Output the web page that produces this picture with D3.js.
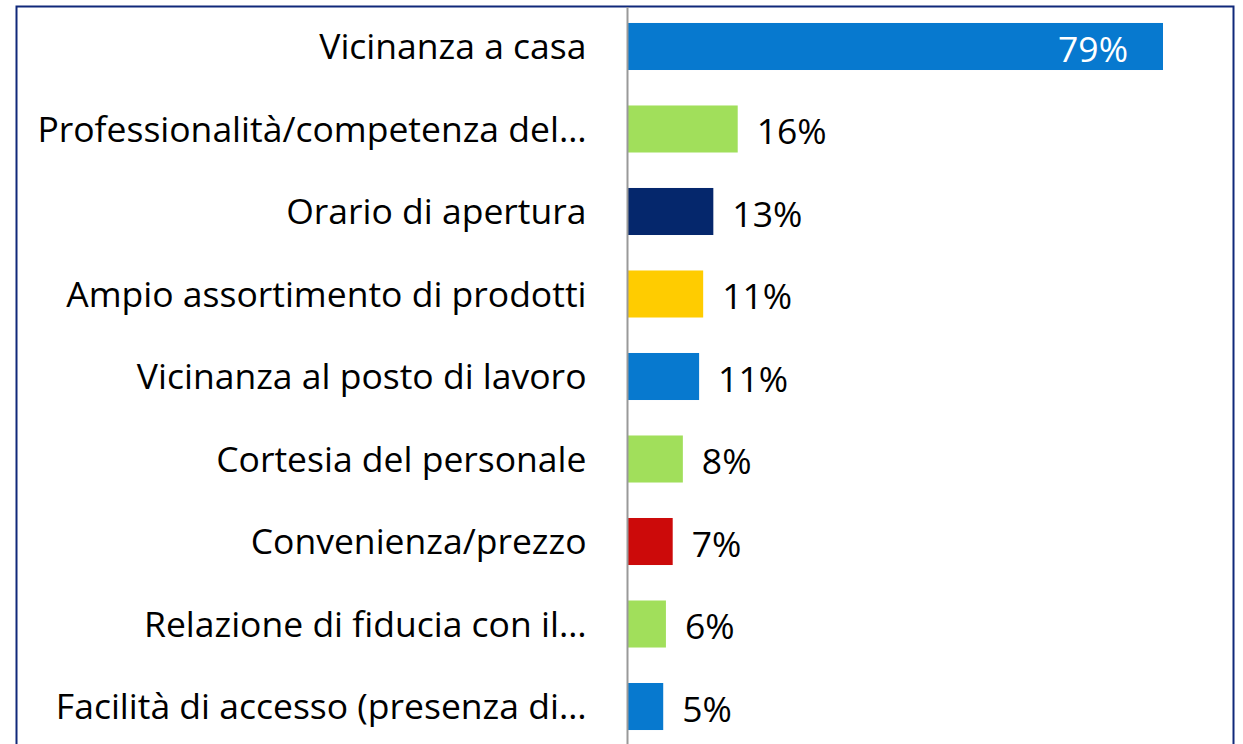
<!DOCTYPE html>
<html>
<head>
<meta charset="utf-8">
<script src="https://cdn.jsdelivr.net/npm/d3@7"></script>
<style>
  body { margin: 0; background: #fff; }
  text { font-family: "Open Sans", sans-serif; font-variant-ligatures: none; }
</style>
</head>
<body>
<div id="chart"></div>
<script>
// categories, top to bottom
const categories = [
    "Vicinanza a casa",
    "Professionalità/competenza del…",
    "Orario di apertura",
    "Ampio assortimento di prodotti",
    "Vicinanza al posto di lavoro",
    "Cortesia del personale",
    "Convenienza/prezzo",
    "Relazione di fiducia con il…",
    "Facilità di accesso (presenza di…"
];
const values = [79, 16.2, 12.6, 11.1, 10.5, 8.1, 6.6, 5.6, 5.2];
const valueLabels = ["79%", "16%", "13%", "11%", "11%", "8%", "7%", "6%", "5%"];
const barColors = ["#0779CF", "#A1DF5B", "#05276C", "#FFCC00", "#0779CF",
                   "#A1DF5B", "#CC0A0A", "#A1DF5B", "#0779CF"];

function main() {
    const width = 1243, height = 744;

    const svg = d3.select("#chart")
        .append("svg")
        .attr("width", width)
        .attr("height", height);

    // frame
    svg.append("rect")
        .attr("x", 16.5).attr("y", 6.5)
        .attr("width", 1217).attr("height", 800)
        .attr("fill", "#fff")
        .attr("stroke", "#10297A")
        .attr("stroke-width", 2);

    const xScale = d3.scaleLinear()
        .domain([0, 79])
        .range([628, 1163]);

    const yScale = d3.scaleBand()
        .domain(categories)
        .range([-12.5, 765.5])
        .padding(0.43);

    // bars
    svg.selectAll(".bar")
        .data(categories)
        .enter()
        .append("rect")
        .attr("class", "bar")
        .attr("x", xScale(0))
        .attr("y", d => yScale(d))
        .attr("width", (d, i) => xScale(values[i]) - xScale(0))
        .attr("height", yScale.bandwidth())
        .attr("fill", (d, i) => barColors[i]);

    // vertical axis line
    const yAxis = svg.append("g")
        .attr("transform", `translate(${xScale(0) - 0.5}, 0)`)
        .call(d3.axisLeft(yScale).tickSize(0).tickPadding(41));
    yAxis.select(".domain")
        .attr("d", "M0,7V744")
        .attr("stroke", "#999")
        .attr("stroke-width", 2);
    yAxis.selectAll(".tick text")
        .attr("font-family", "'Open Sans', sans-serif")
        .attr("font-size", 35.5)
        .attr("dy", "0.36em")
        .attr("fill", "#000");

    // value labels
    svg.selectAll(".val")
        .data(categories)
        .enter()
        .append("text")
        .attr("class", "val")
        .attr("x", (d, i) => i === 0 ? xScale(values[i]) - 35 : xScale(values[i]) + 19)
        .attr("y", d => yScale(d) + yScale.bandwidth() / 2)
        .attr("dy", "0.43em")
        .attr("text-anchor", (d, i) => i === 0 ? "end" : "start")
        .attr("font-size", 35.5)
        .attr("fill", (d, i) => i === 0 ? "#fff" : "#000")
        .text((d, i) => valueLabels[i]);
}

main();
</script>
</body>
</html>
